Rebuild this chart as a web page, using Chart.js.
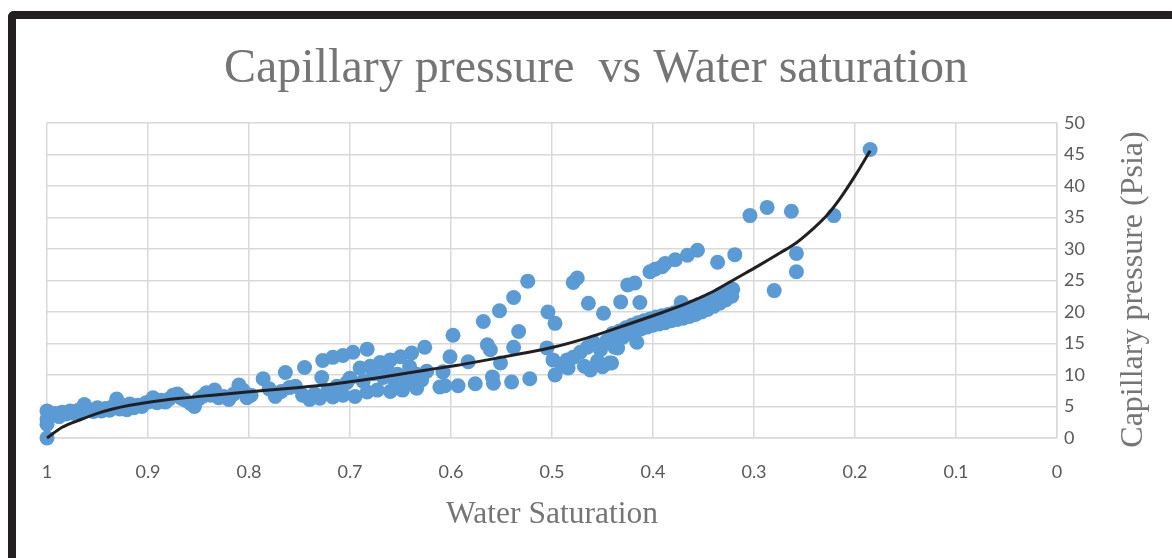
<!DOCTYPE html>
<html>
<head>
<meta charset="utf-8">
<script src="https://cdn.jsdelivr.net/npm/chart.js@4.4.1/dist/chart.umd.min.js"></script>
<style>
    html, body { margin: 0; padding: 0; background: #fff; }
    body { width: 1172px; height: 558px; position: relative; overflow: hidden; }
    #frame {
        position: absolute; left: 8px; top: 11px; width: 1300px; height: 700px;
        border-left: 8px solid #231f20; border-top: 8px solid #231f20;
        border-top-left-radius: 6px;
    }
    #wrap { position: absolute; left: 16px; top: 19px; width: 1160px; height: 539px; }
</style>
</head>
<body>
<div id="frame"></div>
<div id="wrap"><canvas id="chart"></canvas></div>
<script>
// measured points: water saturation / capillary pressure (psia)
const waterSat = [
    1.0, 1.0, 1.0, 1.0, 0.996, 0.992, 0.988, 0.985, 0.981, 0.977, 0.973, 0.969, 0.965, 0.963, 0.958, 0.954,
    0.95, 0.946, 0.942, 0.938, 0.935, 0.931, 0.928, 0.925, 0.921, 0.918, 0.914, 0.91, 0.906, 0.902, 0.898,
    0.895, 0.891, 0.887, 0.883, 0.879, 0.875, 0.871, 0.867, 0.863, 0.858, 0.854, 0.85, 0.846, 0.842, 0.838,
    0.834, 0.83, 0.825, 0.82, 0.815, 0.81, 0.806, 0.802, 0.798,
    0.786, 0.78, 0.774, 0.768, 0.764, 0.76, 0.754, 0.747, 0.745, 0.74, 0.735, 0.73, 0.728, 0.727, 0.722,
    0.717, 0.717, 0.713, 0.707, 0.707, 0.703, 0.70, 0.697, 0.695, 0.69, 0.687, 0.683, 0.683, 0.68, 0.677,
    0.673, 0.67, 0.667, 0.663, 0.66, 0.66, 0.655, 0.653, 0.65, 0.648, 0.645, 0.641, 0.639, 0.638, 0.634,
    0.634, 0.629, 0.626, 0.624,
    0.611, 0.608, 0.606, 0.601, 0.598, 0.593, 0.583, 0.576, 0.568, 0.564, 0.561, 0.559, 0.558, 0.552, 0.551,
    0.54, 0.538, 0.538, 0.533, 0.524, 0.522, 0.505, 0.504, 0.499, 0.497, 0.497, 0.49, 0.485, 0.484, 0.479,
    0.475, 0.479, 0.472, 0.468, 0.465, 0.464, 0.462, 0.459, 0.455, 0.452, 0.45, 0.449, 0.446, 0.443, 0.44,
    0.438, 0.435, 0.441,
    0.44, 0.433, 0.427, 0.421, 0.415, 0.409, 0.403, 0.397, 0.391, 0.385, 0.379, 0.373, 0.367, 0.361, 0.355,
    0.349, 0.343, 0.337, 0.331, 0.326, 0.321,
    0.436, 0.43, 0.424, 0.418, 0.412, 0.406, 0.40, 0.394, 0.388, 0.382, 0.376, 0.37, 0.364, 0.358, 0.352,
    0.346, 0.34, 0.334, 0.328, 0.322,
    0.416, 0.372, 0.425, 0.418, 0.413, 0.432,
    0.403, 0.398, 0.391, 0.388, 0.378, 0.366, 0.356, 0.336, 0.319, 0.304, 0.287, 0.263, 0.221, 0.258, 0.258,
    0.28, 0.185
]
const capPressure = [
    0, 2.2, 3.0, 4.3, 3.6, 3.9, 3.4, 4.1, 3.8, 4.3, 3.9, 4.4, 4.0, 5.3, 4.5, 4.2,
    4.8, 4.3, 4.7, 4.4, 5.0, 6.2, 4.6, 5.2, 4.5, 5.4, 4.8, 5.2, 5.0, 5.6, 5.8,
    6.4, 5.6, 6.0, 5.7, 6.2, 6.8, 7.0, 6.3, 6.0, 5.5, 5.0, 6.2, 6.6, 7.2, 6.8,
    7.6, 6.4, 6.6, 6.1, 7.0, 8.4, 7.6, 6.4, 6.8,
    9.4, 7.8, 6.6, 7.4, 10.4, 8.0, 8.2, 6.8, 11.2, 6.1, 7.0, 6.3, 9.6, 12.3, 7.5,
    12.8, 6.5, 8.2, 13.1, 6.8, 8.8, 9.5, 13.6, 6.6, 11.1, 9.0, 14.1, 7.3, 11.4, 10.2,
    7.6, 12.0, 9.6, 10.8, 12.4, 7.4, 8.6, 10.1, 12.9, 7.6, 9.0, 11.3, 13.5, 8.9, 7.9,
    10.1, 9.2, 14.4, 10.6,
    8.1, 10.5, 8.3, 12.9, 16.3, 8.3, 12.1, 8.6, 18.5, 14.8, 14.0, 9.7, 8.7, 20.2, 11.9,
    8.9, 22.3, 14.4, 16.9, 24.9, 9.4, 14.3, 20.0, 12.4, 18.2, 10.0, 11.4, 12.4, 11.1, 24.7,
    25.4, 12.8, 13.6, 11.4, 14.4, 21.4, 10.8, 15.2, 12.2, 14.0, 11.3, 19.8, 15.4, 11.9, 16.0,
    14.4, 14.3, 11.9,
    16.6, 17.0, 17.5, 17.9, 18.3, 18.6, 18.9, 19.2, 19.4, 19.6, 19.9, 20.1, 20.4, 20.8, 21.2,
    21.6, 22.0, 22.4, 22.8, 23.2, 23.6,
    15.6, 16.0, 16.5, 16.9, 17.3, 17.6, 17.9, 18.1, 18.3, 18.6, 18.8, 19.0, 19.3, 19.6, 20.0,
    20.4, 20.9, 21.4, 21.9, 22.5,
    15.2, 21.5, 24.3, 24.6, 21.5, 21.6,
    26.4, 26.8, 27.2, 27.7, 28.3, 29.0, 29.8, 27.9, 29.1, 35.3, 36.6, 36.0, 35.3, 29.3, 26.4,
    23.4, 45.8
]

// trendline
const trendSat = [1, 0.985, 0.967, 0.95, 0.935, 0.918, 0.901, 0.868, 0.836, 0.802, 0.759, 0.72, 0.687,
    0.655, 0.624, 0.595, 0.564, 0.53, 0.499, 0.465, 0.433, 0.40, 0.366, 0.34, 0.317, 0.295, 0.274,
    0.258, 0.243, 0.228, 0.214, 0.2, 0.185]
const trendPc = [0, 1.7, 2.9, 3.9, 4.6, 5.2, 5.65, 6.3, 6.8, 7.3, 7.9, 8.5, 9.2,
    10.0, 10.8, 11.5, 12.4, 13.4, 14.4, 15.9, 17.6, 19.4, 21.4, 23.3, 25.4, 27.4, 29.4,
    31.0, 33.0, 35.3, 38.2, 41.6, 45.6]

const chartTitle = 'Capillary pressure  vs Water saturation'
const xTitle = 'Water Saturation'
const yTitle = 'Capillary pressure (Psia)'

const GRID = '#d9d9d9'
const TICK = { family: 'Lato, "Liberation Sans", sans-serif', size: 18 }
const SERIF = '"Liberation Serif", "Times New Roman", serif'

function pairs(xs, ys) {
    return xs.map((x, i) => ({ x: x, y: ys[i] }))
}

// right side axis title reads bottom-to-top, so draw it ourselves
const yTitlePlugin = {
    id: 'yTitle',
    afterDraw(chart) {
        const ctx = chart.ctx
        const area = chart.chartArea
        ctx.save()
        ctx.translate(1118, (area.top + area.bottom) / 2 + 9)
        ctx.rotate(-Math.PI / 2)
        ctx.font = '32px ' + SERIF
        ctx.fillStyle = '#757575'
        ctx.textAlign = 'center'
        ctx.textBaseline = 'middle'
        ctx.fillText(yTitle, 0, 0)
        ctx.restore()
    }
}

new Chart('chart', {
    data: {
        datasets: [{
            type: 'line',
            label: 'Trend',
            data: pairs(trendSat, trendPc),
            borderColor: '#231f20',
            borderWidth: 3,
            pointRadius: 0,
            cubicInterpolationMode: 'monotone',
            fill: false,
            clip: false,
            order: 0
        }, {
            type: 'scatter',
            label: 'Pc',
            data: pairs(waterSat, capPressure),
            backgroundColor: '#5b9bd5',
            borderColor: '#5b9bd5',
            borderWidth: 0,
            pointRadius: 7.5,
            clip: false,
            order: 1
        }]
    },
    options: {
        responsive: true,
        maintainAspectRatio: false,
        animation: false,
        layout: { padding: 0 },
        plugins: {
            legend: { display: false },
            tooltip: { enabled: false },
            title: {
                display: true,
                text: chartTitle,
                color: '#757575',
                font: { family: SERIF, size: 48, weight: 'normal', lineHeight: 1.2 },
                padding: { top: 22, bottom: 24.4 }
            }
        },
        scales: {
            x: {
                type: 'linear',
                reverse: true,
                min: 0,
                max: 1,
                ticks: {
                    stepSize: 0.1,
                    color: '#595959',
                    font: TICK,
                    padding: 23,
                    maxRotation: 0,
                    callback: v => Number(v.toFixed(1)).toString()
                },
                grid: { color: GRID, lineWidth: 1.5, drawTicks: false },
                border: { color: GRID, width: 1.5 },
                title: {
                    display: true,
                    text: xTitle,
                    color: '#757575',
                    font: { family: SERIF, size: 31.5, weight: 'normal', lineHeight: 1.2 },
                    padding: { top: 0, bottom: 24 }
                },
                afterFit(scale) { scale.height = 120 }
            },
            // empty left gutter, keeps the title centred on the whole canvas
            gutter: {
                type: 'linear',
                position: 'left',
                display: true,
                ticks: { display: false },
                grid: { display: false },
                border: { display: false },
                afterFit(scale) { scale.width = 31 }
            },
            y: {
                type: 'linear',
                position: 'right',
                min: 0,
                max: 50,
                ticks: { stepSize: 5, color: '#595959', font: TICK, padding: 7 },
                grid: { color: GRID, lineWidth: 1.5, drawTicks: false },
                border: { color: GRID, width: 1.5 },
                afterFit(scale) { scale.width = 119 }
            }
        }
    },
    plugins: [yTitlePlugin]
})
</script>
</body>
</html>
